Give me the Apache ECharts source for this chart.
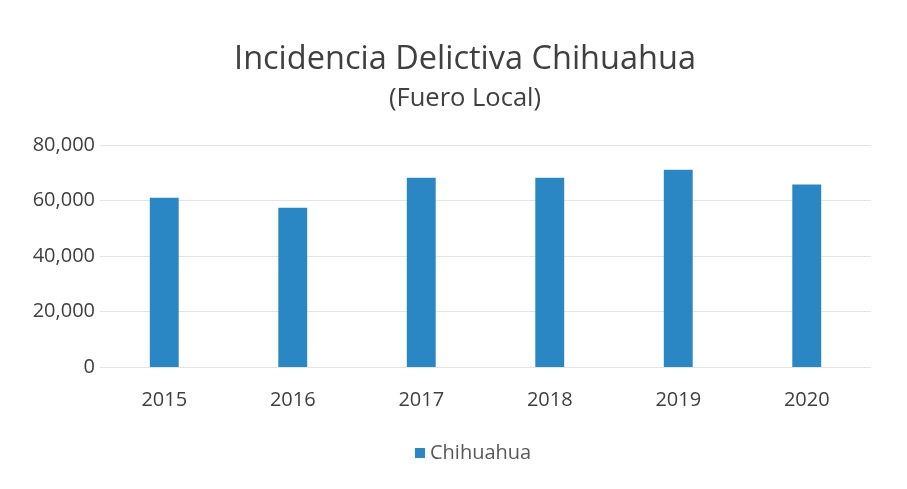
<!DOCTYPE html>
<html>
<head>
<meta charset="utf-8">
<script src="https://cdn.jsdelivr.net/npm/echarts@6/dist/echarts.min.js"></script>
<style>
html,body{margin:0;padding:0;background:#fff;}
#c{width:907px;height:489px;}
</style>
</head>
<body>
<div id="c"></div>
<script>
var categories = ['2015', '2016', '2017', '2018', '2019', '2020'];
var values = [61000, 57400, 68200, 68200, 71100, 65800];
var seriesName = 'Chihuahua';
var titleText = 'Incidencia Delictiva Chihuahua';
var subtitleText = '(Fuero Local)';

var chart = echarts.init(document.getElementById('c'));
chart.setOption({
  animation: false,
  backgroundColor: '#ffffff',
  textStyle: { fontFamily: 'Open Sans' },
  title: {
    text: titleText,
    subtext: subtitleText,
    left: 460,
    textAlign: 'center',
    top: 38,
    itemGap: 10,
    textStyle: { fontSize: 32.5, fontWeight: 'normal', color: '#404040', fontFamily: 'Open Sans' },
    subtextStyle: { fontSize: 25.5, color: '#404040', fontFamily: 'Open Sans' }
  },
  legend: {
    top: 438,
    left: 410,
    itemWidth: 10,
    itemHeight: 10,
    itemGap: 2,
    icon: 'rect',
    textStyle: { fontSize: 20, color: '#595959', fontFamily: 'Open Sans' },
    data: [seriesName]
  },
  grid: { left: 100, right: 36, top: 145, bottom: 122, containLabel: false },
  xAxis: {
    type: 'category',
    data: categories,
    axisLine: { show: false },
    axisTick: { show: false },
    axisLabel: { fontSize: 20, color: '#404040', margin: 23, fontFamily: 'Open Sans' }
  },
  yAxis: {
    type: 'value',
    min: 0,
    max: 80000,
    interval: 20000,
    axisLine: { show: false },
    axisTick: { show: false },
    splitLine: { lineStyle: { color: '#e4e4e4', width: 1 } },
    axisLabel: {
      fontSize: 20, color: '#404040', margin: 5, fontFamily: 'Open Sans',
      formatter: function (v) { return v.toLocaleString('en-US'); }
    }
  },
  series: [{
    name: seriesName,
    type: 'bar',
    data: values,
    barWidth: '22.5%',
    itemStyle: { color: '#2b87c4' }
  }]
});
</script>
</body>
</html>
